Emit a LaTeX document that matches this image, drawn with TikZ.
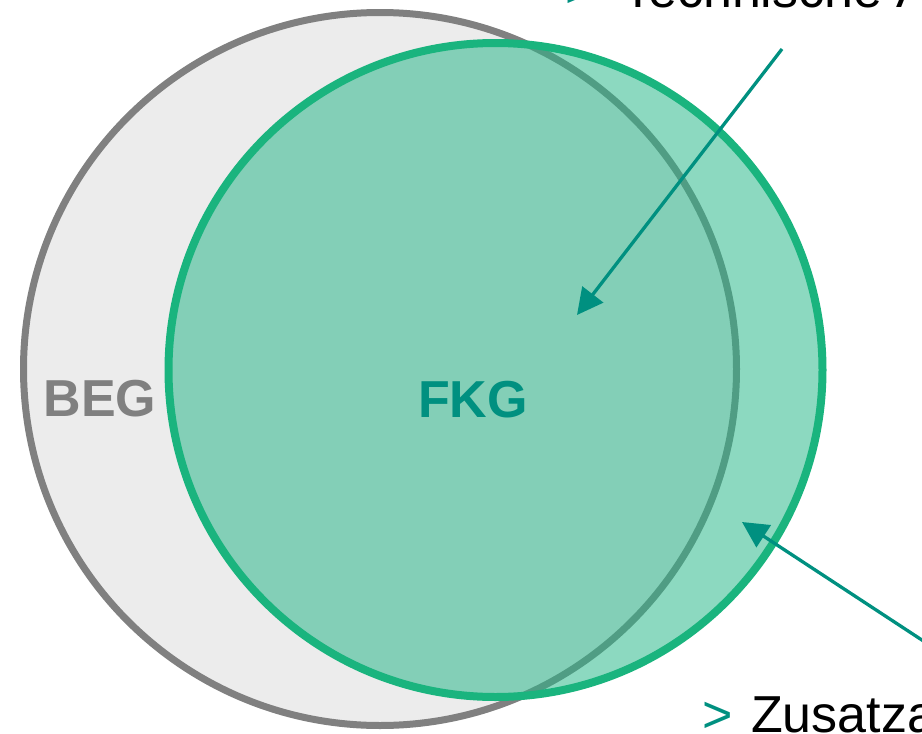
\documentclass[tikz,border=0pt]{standalone}
\usepackage{fontspec}
\setmainfont{Liberation Sans}
\usetikzlibrary{arrows.meta}
\definecolor{begline}{RGB}{128,128,128}
\definecolor{begfill}{RGB}{236,236,236}
\definecolor{fkgline}{RGB}{26,180,126}
\definecolor{fkgfill}{RGB}{38,183,136}
\definecolor{tealarrow}{RGB}{0,144,128}
\tikzset{
  arrowline/.style={draw=tealarrow, line width=3.3pt, -{Triangle[length=26pt,width=26pt]}},
  biglabel/.style={font=\bfseries\fontsize{52}{60}\selectfont, inner sep=0},
  sidetext/.style={font=\fontsize{52}{60}\selectfont, anchor=base west, inner sep=0},
}
\begin{document}
\begin{tikzpicture}[x=1pt,y=-1pt]
\useasboundingbox (0,0) rectangle (922,734);
\clip (0,0) rectangle (922,734);
\node[circle, draw=begline, fill=begfill, line width=7pt, minimum size=713pt, inner sep=0] (beg) at (380,369) {};
\node[circle, draw=fkgline, fill=fkgfill, fill opacity=0.53, line width=8pt, minimum size=654pt, inner sep=0] (fkg) at (495.5,370) {};
\node[biglabel, text=begline] (beglabel) at (100,399) {BEG};
\node[biglabel, text=tealarrow] (fkglabel) at (473,400) {FKG};
\coordinate (a1s) at (782,49);
\coordinate (a1e) at (577,315);
\coordinate (a2s) at (960,665);
\coordinate (a2e) at (742,522);
\draw[arrowline] (a1s) -- (a1e);
\draw[arrowline] (a2s) -- (a2e);
\node[sidetext, text=tealarrow] (gt1) at (565,7) {>};
\node[sidetext] (t1) at (622,7) {Technische Anforderungen};
\node[sidetext, text=tealarrow] (gt2) at (702,732) {>};
\node[sidetext] (t2) at (751,732) {Zusatzanforderungen};
\end{tikzpicture}
\end{document}
